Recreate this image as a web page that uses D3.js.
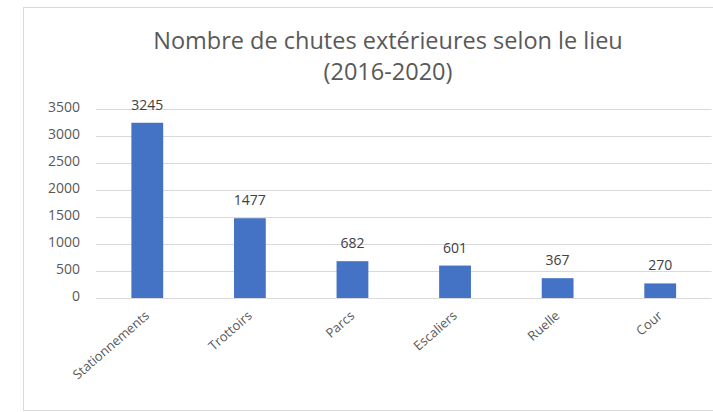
<!DOCTYPE html>
<html>
<head>
<meta charset="utf-8">
<script src="https://cdn.jsdelivr.net/npm/d3@7"></script>
<style>
  body { margin: 0; background: #fff; }
  text { font-family: "Open Sans", sans-serif; }
</style>
</head>
<body>
<div id="chart"></div>
<script>
// data
let categories = ["Stationnements", "Trottoirs", "Parcs", "Escaliers", "Ruelle", "Cour"];
let values = [3245, 1477, 682, 601, 367, 270];
let yTicks = [0, 500, 1000, 1500, 2000, 2500, 3000, 3500];
let titleLines = ["Nombre de chutes extérieures selon le lieu", "(2016-2020)"];

let w = 713, h = 412;
let margin = {left: 96, right: 1.5, top: 109, bottom: 114};

let svg = d3.select("#chart").append("svg")
  .attr("width", w)
  .attr("height", h);

// chart frame
svg.append("rect")
  .attr("x", 23.5)
  .attr("y", 7.5)
  .attr("width", 700)
  .attr("height", 403)
  .attr("fill", "#fff")
  .attr("stroke", "#d9d9d9")
  .attr("stroke-width", 1);

let x = d3.scaleBand()
  .domain(categories)
  .range([margin.left, w - margin.right])
  .paddingInner(0.69)
  .paddingOuter(0.345);

let y = d3.scaleLinear()
  .domain([0, 3500])
  .range([h - margin.bottom, margin.top]);

// gridlines
svg.append("g")
  .selectAll("line")
  .data(yTicks)
  .join("line")
  .attr("x1", margin.left)
  .attr("x2", w - margin.right)
  .attr("y1", d => Math.round(y(d)) + 0.5)
  .attr("y2", d => Math.round(y(d)) + 0.5)
  .attr("stroke", "#d9d9d9")
  .attr("stroke-width", 1);

// y axis labels
let yAxis = d3.axisLeft(y).tickValues(yTicks).tickFormat(d3.format("d")).tickSize(0).tickPadding(16);
let yg = svg.append("g")
  .attr("transform", "translate(" + margin.left + ",0)")
  .call(yAxis);
yg.select(".domain").remove();
yg.selectAll("text")
  .attr("dy", "0.2em")
  .style("font-size", "14px")
  .style("fill", "#595959");

// bars
svg.append("g")
  .selectAll("rect")
  .data(values)
  .join("rect")
  .attr("x", (d, i) => x(categories[i]))
  .attr("y", d => y(d))
  .attr("width", x.bandwidth())
  .attr("height", d => y(0) - y(d))
  .attr("fill", "#4472c4");

// value labels
svg.append("g")
  .selectAll("text")
  .data(values)
  .join("text")
  .attr("x", (d, i) => x(categories[i]) + x.bandwidth() / 2)
  .attr("y", d => y(d) - 13)
  .attr("text-anchor", "middle")
  .style("font-size", "14px")
  .style("fill", "#404040")
  .text(d => d);

// x axis labels
let xAxis = d3.axisBottom(x).tickSize(0).tickPadding(0);
let xg = svg.append("g")
  .attr("transform", "translate(0," + y(0) + ")")
  .call(xAxis);
xg.select(".domain").remove();
xg.selectAll("text")
  .attr("y", 0)
  .attr("dy", 0)
  .attr("transform", "translate(3,19) rotate(-41)")
  .style("text-anchor", "end")
  .style("font-size", "13px")
  .style("fill", "#595959");

// title
svg.append("g")
  .selectAll("text")
  .data(titleLines)
  .join("text")
  .attr("x", 388)
  .attr("y", (d, i) => 49 + i * 31)
  .attr("text-anchor", "middle")
  .style("font-size", "23.5px")
  .style("fill", "#595959")
  .text(d => d);
</script>
</body>
</html>
